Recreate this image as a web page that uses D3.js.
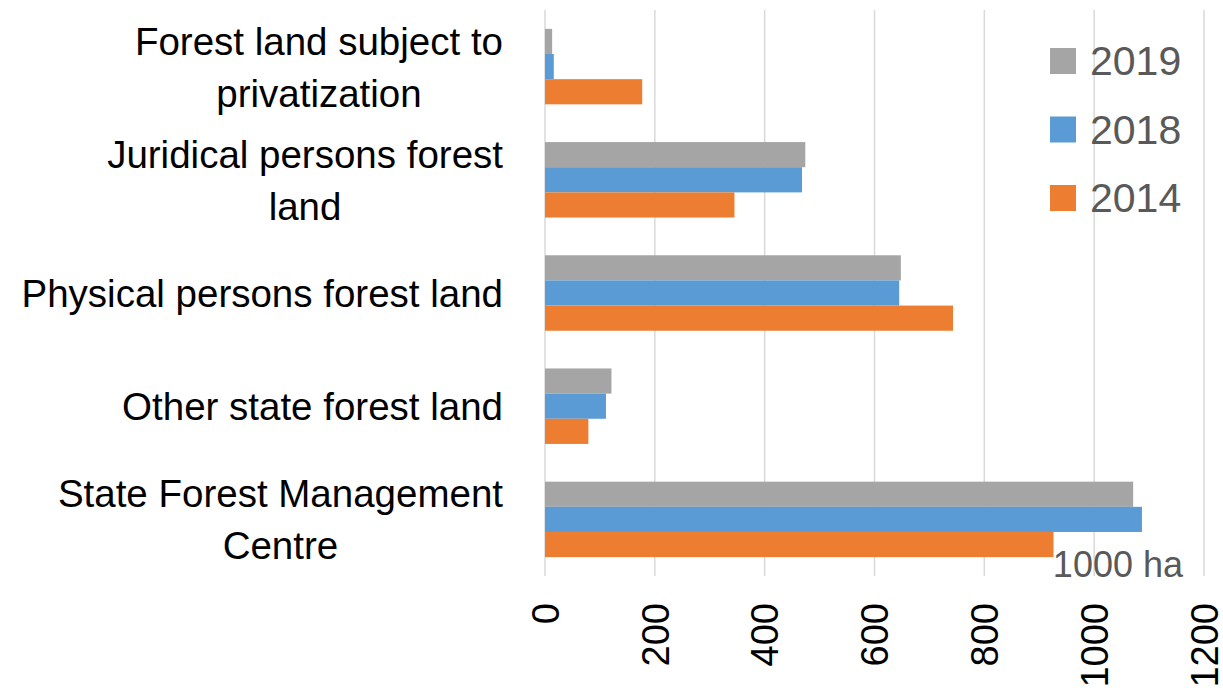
<!DOCTYPE html>
<html>
<head>
<meta charset="utf-8">
<script src="https://cdn.jsdelivr.net/npm/d3@7"></script>
<style>
  body { margin: 0; background: #fff; }
  text { font-family: "Liberation Sans", Arial, sans-serif; }
</style>
</head>
<body>
<div id="chart"></div>
<script>
// data
var categories = ["Forest land subject to privatization", "Juridical persons forest land",
  "Physical persons forest land", "Other state forest land", "State Forest Management Centre"];
var labelLines = [["Forest land subject to", "privatization"], ["Juridical persons forest", "land"],
  ["Physical persons forest land"], ["Other state forest land"], ["State Forest Management", "Centre"]];
var years = ["2019", "2018", "2014"];
var v2019 = [13, 474, 648, 121, 1071];
var v2018 = [16, 468, 645, 111, 1087];
var v2014 = [177, 345, 743, 79, 926];
var ticks = [0, 200, 400, 600, 800, 1000, 1200];
var unitLabel = "1000 ha";

var colors = {"2019": "#A5A5A5", "2018": "#5B9BD5", "2014": "#ED7D31"};
var valuesByYear = {"2019": v2019, "2018": v2018, "2014": v2014};

var width = 1223, height = 691;
var plot = {left: 545, right: 1204, top: 10, bottom: 576};

var svg = d3.select('#chart').append('svg')
    .attr('width', width)
    .attr('height', height);

var xScale = d3.scaleLinear()
    .domain([0, 1200])
    .range([plot.left, plot.right]);

var yScale = d3.scaleBand()
    .domain(categories)
    .range([plot.top, plot.bottom])
    .padding(0);

// bar thickness, gap width 150%
var barH = yScale.bandwidth() / (years.length + 1.5);
var ySub = d3.scaleBand()
    .domain(years)
    .range([barH * 0.75, yScale.bandwidth() - barH * 0.75]);

// gridlines
svg.append('g').selectAll('line')
    .data(ticks)
    .enter()
    .append('line')
    .attr('x1', function(d) { return xScale(d); })
    .attr('x2', function(d) { return xScale(d); })
    .attr('y1', plot.top)
    .attr('y2', plot.bottom)
    .style('stroke', '#D9D9D9')
    .style('stroke-width', 1.5);

// bars
var groups = svg.append('g').selectAll('.cat')
    .data(categories)
    .enter()
    .append('g')
    .attr('class', 'cat')
    .attr('transform', function(d) { return 'translate(0,' + yScale(d) + ')'; });

groups.selectAll('rect')
    .data(function(d, i) {
      return years.map(function(y) { return {year: y, value: valuesByYear[y][i]}; });
    })
    .enter()
    .append('rect')
    .attr('x', xScale(0))
    .attr('y', function(d) { return ySub(d.year); })
    .attr('width', function(d) { return xScale(d.value) - xScale(0); })
    .attr('height', ySub.bandwidth())
    .style('fill', function(d) { return colors[d.year]; });

// category labels: block right aligned, lines centred within it
var capH = 14;
var lineGap = 52;
var labelRight = 503;
svg.append('g').selectAll('text')
    .data(categories)
    .enter()
    .append('text')
    .style('font-size', '38.5px')
    .style('fill', '#000')
    .each(function(d, i) {
      var lines = labelLines[i];
      var c = yScale(d) + yScale.bandwidth() / 2;
      var y0 = c + capH - (lines.length - 1) * lineGap / 2;
      var t = d3.select(this);
      var spans = lines.map(function(l, k) {
        return t.append('tspan')
          .attr('y', y0 + k * lineGap)
          .attr('text-anchor', 'middle')
          .text(l);
      });
      var w = d3.max(spans, function(s) { return s.node().getComputedTextLength(); });
      spans.forEach(function(s) { s.attr('x', labelRight - w / 2); });
    });

// x axis tick labels, rotated
svg.append('g').selectAll('text')
    .data(ticks)
    .enter()
    .append('text')
    .attr('transform', function(d) { return 'translate(' + xScale(d) + ',603) rotate(-90)'; })
    .attr('text-anchor', 'end')
    .attr('dy', '0.36em')
    .style('font-size', '38px')
    .style('fill', '#000')
    .text(function(d) { return d; });

// unit label
svg.append('text')
    .attr('x', 1183)
    .attr('y', 577)
    .attr('text-anchor', 'end')
    .style('font-size', '36px')
    .style('fill', '#595959')
    .text(unitLabel);

// legend
var legend = svg.append('g').selectAll('g')
    .data(years)
    .enter()
    .append('g')
    .attr('transform', function(d, i) { return 'translate(1050,' + (48 + i * 68.5) + ')'; });

legend.append('rect')
    .attr('width', 26)
    .attr('height', 26)
    .style('fill', function(d) { return colors[d]; });

legend.append('text')
    .attr('x', 40)
    .attr('y', 27)
    .style('font-size', '41px')
    .style('fill', '#595959')
    .text(function(d) { return d; });
</script>
</body>
</html>
